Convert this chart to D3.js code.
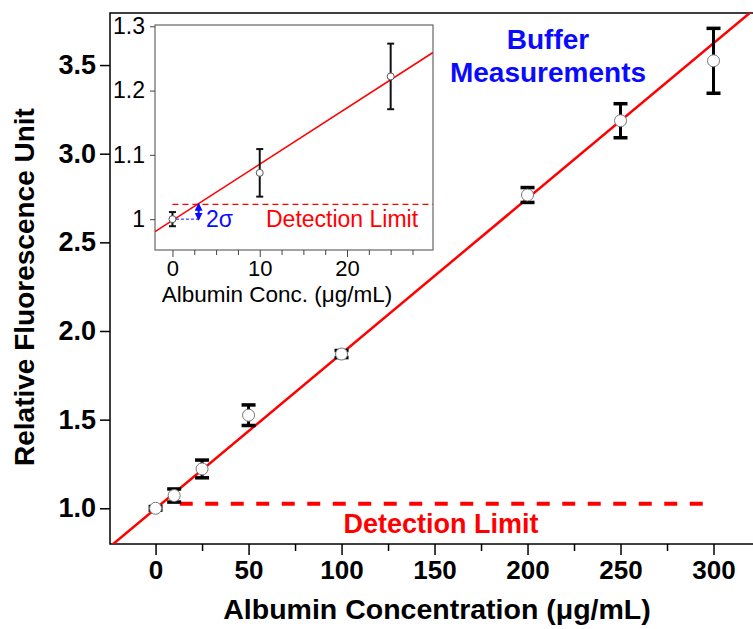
<!DOCTYPE html>
<html><head><meta charset="utf-8">
<script src="https://cdn.jsdelivr.net/npm/d3@7"></script>
<style>body{margin:0;background:#fff}svg{display:block}text{font-family:Arial,"Liberation Sans",sans-serif}</style>
</head><body>
<svg id="c" width="753" height="629"></svg>
<script>
// ---- data ----
const concentrations = [0, 10, 25, 50, 100, 200, 250, 300];
const fluorescence   = [1.0, 1.072, 1.222, 1.525, 1.870, 2.767, 3.186, 3.524];
const errors         = [0.01, 0.037, 0.05, 0.058, 0.02, 0.042, 0.096, 0.183];
const insetConc      = [0, 10, 25];
const insetFluo      = [1.0, 1.072, 1.222];
const insetErr       = [0.011, 0.037, 0.051];
const fitIntercept = 0.998, fitSlope = 0.00875;
const detectionLimit = 1.025;
const mainDLRange = [13, 295];
const xTicks = [0, 50, 100, 150, 200, 250, 300];
const xMinorTicks = [25, 75, 125, 175, 225, 275];
const yTicks = [1.0, 1.5, 2.0, 2.5, 3.0, 3.5];
const insetXTicks = [0, 10, 20];
const insetXMinor = [2.5, 5, 7.5, 12.5, 15, 17.5, 22.5, 25, 27.5];
const insetYTicks = [1.0, 1.1, 1.2, 1.3];
const insetYLabels = ["1", "1.1", "1.2", "1.3"];

const svg = d3.select("#c");
const RED = "#ff0000", BLUE = "#0a0aff";

// ---- main scales ----
const x = d3.scaleLinear().domain([-24.5, 325]).range([110, 760]);
const y = d3.scaleLinear().domain([0.7986, 3.7936]).range([544, 13]);

svg.append("defs").append("clipPath").attr("id", "mclip")
  .append("rect").attr("x", 110).attr("y", 13).attr("width", 650).attr("height", 531);

// frame
svg.append("rect").attr("x", 110).attr("y", 13).attr("width", 650).attr("height", 531)
  .attr("fill", "none").attr("stroke", "#000").attr("stroke-width", 1.5);

// x axis
const gx = svg.append("g").attr("transform", "translate(0,544)")
  .call(d3.axisBottom(x).tickValues(xTicks).tickSize(11).tickPadding(6).tickFormat(d3.format("d")));
gx.select(".domain").remove();
gx.selectAll("line").attr("stroke-width", 1.5);
gx.selectAll("text").attr("font-size", 26).attr("font-weight", "bold").attr("fill", "#000");
const gxm = svg.append("g").attr("transform", "translate(0,544)")
  .call(d3.axisBottom(x).tickValues(xMinorTicks).tickSize(7).tickFormat(""));
gxm.select(".domain").remove();
gxm.selectAll("line").attr("stroke-width", 1.5);

// y axis
const gy = svg.append("g").attr("transform", "translate(110,0)")
  .call(d3.axisLeft(y).tickValues(yTicks).tickSize(10).tickPadding(4).tickFormat(d3.format(".1f")));
gy.select(".domain").remove();
gy.selectAll("line").attr("stroke-width", 1.5);
gy.selectAll("text").attr("font-size", 27).attr("font-weight", "bold").attr("fill", "#000");

// axis titles
svg.append("text").attr("x", 437).attr("y", 619).attr("text-anchor", "middle")
  .attr("font-size", 28.5).attr("font-weight", "bold").text("Albumin Concentration (μg/mL)");
svg.append("text").attr("transform", "translate(24,287) rotate(-90)").attr("text-anchor", "middle")
  .attr("dominant-baseline", "central")
  .attr("font-size", 28).attr("font-weight", "bold").text("Relative Fluorescence Unit");

const plot = svg.append("g").attr("clip-path", "url(#mclip)");

// fit line
const fitX = [-24.5, 325];
plot.append("line")
  .attr("x1", x(fitX[0])).attr("y1", y(fitIntercept + fitSlope * fitX[0]))
  .attr("x2", x(fitX[1])).attr("y2", y(fitIntercept + fitSlope * fitX[1]))
  .attr("stroke", RED).attr("stroke-width", 2.5);

// detection limit (main)
plot.append("line")
  .attr("x1", x(mainDLRange[0])).attr("x2", x(mainDLRange[1]))
  .attr("y1", y(detectionLimit)).attr("y2", y(detectionLimit))
  .attr("stroke", RED).attr("stroke-width", 4).attr("stroke-dasharray", "13,12.5");
svg.append("text").attr("x", 441).attr("y", 533).attr("text-anchor", "middle")
  .attr("font-size", 27).attr("font-weight", "bold").attr("fill", RED).text("Detection Limit");

// error bars & points (main)
const pts = concentrations.map((c, i) => ({c, v: fluorescence[i], e: errors[i]}));
const eb = plot.append("g").selectAll("g").data(pts).join("g");
eb.append("line").attr("x1", d => x(d.c)).attr("x2", d => x(d.c))
  .attr("y1", d => y(d.v - d.e)).attr("y2", d => y(d.v + d.e))
  .attr("stroke", "#000").attr("stroke-width", 3);
eb.append("line").attr("x1", d => x(d.c) - 7).attr("x2", d => x(d.c) + 7)
  .attr("y1", d => y(d.v + d.e)).attr("y2", d => y(d.v + d.e))
  .attr("stroke", "#000").attr("stroke-width", 3.5);
eb.append("line").attr("x1", d => x(d.c) - 7).attr("x2", d => x(d.c) + 7)
  .attr("y1", d => y(d.v - d.e)).attr("y2", d => y(d.v - d.e))
  .attr("stroke", "#000").attr("stroke-width", 3.5);
eb.append("circle").attr("cx", d => x(d.c)).attr("cy", d => y(d.v)).attr("r", 6)
  .attr("fill", "#fff").attr("stroke", "#777").attr("stroke-width", 1);

// Buffer Measurements label
svg.append("text").attr("x", 548).attr("y", 49).attr("text-anchor", "middle")
  .attr("font-size", 28).attr("font-weight", "bold").attr("fill", BLUE).text("Buffer");
svg.append("text").attr("x", 548).attr("y", 82).attr("text-anchor", "middle")
  .attr("font-size", 28).attr("font-weight", "bold").attr("fill", BLUE).text("Measurements");

// ---- inset ----
const xi = d3.scaleLinear().domain([-2, 29.85]).range([155, 433]);
const yi = d3.scaleLinear().domain([0.952, 1.302]).range([250, 25]);
const ins = svg.append("g");
ins.append("rect").attr("x", 155).attr("y", 25).attr("width", 278).attr("height", 225)
  .attr("fill", "#fff").attr("stroke", "#666").attr("stroke-width", 1.2);
ins.append("defs").append("clipPath").attr("id", "iclip")
  .append("rect").attr("x", 155).attr("y", 25).attr("width", 278).attr("height", 225);

const gix = ins.append("g").attr("transform", "translate(0,250)")
  .call(d3.axisBottom(xi).tickValues(insetXTicks).tickSize(7).tickPadding(3).tickFormat(d3.format("d")));
gix.select(".domain").remove();
gix.selectAll("line").attr("stroke", "#444");
gix.selectAll("text").attr("font-size", 22).attr("fill", "#000");
const gixm = ins.append("g").attr("transform", "translate(0,250)")
  .call(d3.axisBottom(xi).tickValues(insetXMinor).tickSize(5).tickFormat(""));
gixm.select(".domain").remove();
gixm.selectAll("line").attr("stroke", "#444");

const giy = ins.append("g").attr("transform", "translate(155,0)")
  .call(d3.axisLeft(yi).tickValues(insetYTicks).tickSize(5).tickPadding(5)
    .tickFormat((d, i) => insetYLabels[i]));
giy.select(".domain").remove();
giy.selectAll("line").attr("stroke", "#444");
giy.selectAll("text").attr("font-size", 23).attr("fill", "#000");

ins.append("text").attr("x", 277).attr("y", 302).attr("text-anchor", "middle")
  .attr("font-size", 22.5).text("Albumin Conc. (μg/mL)");

const ip = ins.append("g").attr("clip-path", "url(#iclip)");
ip.append("line")
  .attr("x1", xi(-2)).attr("y1", yi(fitIntercept + fitSlope * -2))
  .attr("x2", xi(29.85)).attr("y2", yi(fitIntercept + fitSlope * 29.85))
  .attr("stroke", RED).attr("stroke-width", 1.6);
ip.append("line").attr("x1", xi(0)).attr("x2", xi(29.85))
  .attr("y1", yi(detectionLimit - 0.002)).attr("y2", yi(detectionLimit - 0.002))
  .attr("stroke", RED).attr("stroke-width", 1.4).attr("stroke-dasharray", "6,4");
ins.append("text").attr("x", 266).attr("y", 227).attr("font-size", 23)
  .attr("fill", RED).text("Detection Limit");

// 2 sigma marker
const sx = 3.0;
ip.append("line").attr("x1", xi(0.4)).attr("x2", xi(sx)).attr("y1", yi(1.0)).attr("y2", yi(1.0))
  .attr("stroke", BLUE).attr("stroke-width", 1).attr("stroke-dasharray", "3,2");
const defs = svg.append("defs");
defs.append("marker").attr("id", "ah").attr("viewBox", "0 0 10 10").attr("refX", 8).attr("refY", 5)
  .attr("markerWidth", 4).attr("markerHeight", 4).attr("orient", "auto-start-reverse")
  .append("path").attr("d", "M0,0L10,5L0,10z").attr("fill", BLUE);
ip.append("line").attr("x1", xi(sx)).attr("x2", xi(sx))
  .attr("y1", yi(1.0)).attr("y2", yi(detectionLimit - 0.002))
  .attr("stroke", BLUE).attr("stroke-width", 2)
  .attr("marker-start", "url(#ah)").attr("marker-end", "url(#ah)");
ins.append("text").attr("x", 206).attr("y", 227).attr("font-size", 23)
  .attr("fill", BLUE).text("2σ");

const ipts = insetConc.map((c, i) => ({c, v: insetFluo[i], e: insetErr[i]}));
const ieb = ip.append("g").selectAll("g").data(ipts).join("g");
ieb.append("line").attr("x1", d => xi(d.c)).attr("x2", d => xi(d.c))
  .attr("y1", d => yi(d.v - d.e)).attr("y2", d => yi(d.v + d.e))
  .attr("stroke", "#111").attr("stroke-width", 2);
ieb.append("line").attr("x1", d => xi(d.c) - 3.5).attr("x2", d => xi(d.c) + 3.5)
  .attr("y1", d => yi(d.v + d.e)).attr("y2", d => yi(d.v + d.e))
  .attr("stroke", "#111").attr("stroke-width", 2);
ieb.append("line").attr("x1", d => xi(d.c) - 3.5).attr("x2", d => xi(d.c) + 3.5)
  .attr("y1", d => yi(d.v - d.e)).attr("y2", d => yi(d.v - d.e))
  .attr("stroke", "#111").attr("stroke-width", 2);
ieb.append("circle").attr("cx", d => xi(d.c)).attr("cy", d => yi(d.v)).attr("r", 3.5)
  .attr("fill", "#fff").attr("stroke", "#555").attr("stroke-width", 1);
</script>
</body></html>
